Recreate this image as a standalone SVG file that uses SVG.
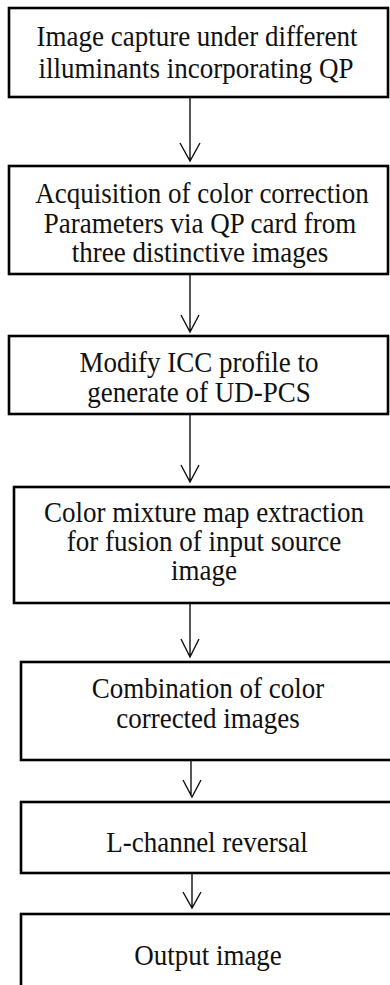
<svg xmlns="http://www.w3.org/2000/svg" width="390" height="985" viewBox="0 0 390 985">
<style>
.box{fill:#fff;stroke:#000;stroke-width:2.6}
.t{font-family:"Liberation Serif","Times New Roman",serif;font-size:27px;fill:#111;text-anchor:middle}
.c{stroke:#111;stroke-width:1.4;fill:none}
</style>
<rect width="390" height="985" fill="#fff"/>
<g id="n1"><rect class="box" x="9" y="8" width="379" height="89"/>
<text class="t" transform="translate(197,46) scale(1,1.08)">Image capture under different</text>
<text class="t" transform="translate(196,78) scale(1,1.08)">illuminants incorporating QP</text></g>
<g id="n2"><rect class="box" x="9" y="166" width="379" height="108"/>
<text class="t" transform="translate(202,203) scale(1,1.08)">Acquisition of color correction</text>
<text class="t" transform="translate(200,233) scale(1,1.08)">Parameters via QP card from</text>
<text class="t" transform="translate(200,262) scale(1,1.08)">three distinctive images</text></g>
<g id="n3"><rect class="box" x="9" y="336" width="379" height="78"/>
<text class="t" transform="translate(199,372) scale(1,1.08)">Modify ICC profile to</text>
<text class="t" transform="translate(199,402) scale(1,1.08)">generate of UD-PCS</text></g>
<g id="n4"><rect class="box" x="14" y="487" width="380" height="116"/>
<text class="t" transform="translate(204,522) scale(1,1.08)">Color mixture map extraction</text>
<text class="t" transform="translate(204,551) scale(1,1.08)">for fusion of input source</text>
<text class="t" transform="translate(204,580) scale(1,1.08)">image</text></g>
<g id="n5"><rect class="box" x="21" y="662" width="373" height="98"/>
<text class="t" transform="translate(208,698) scale(1,1.08)">Combination of color</text>
<text class="t" transform="translate(208,728) scale(1,1.08)">corrected images</text></g>
<g id="n6"><rect class="box" x="21" y="802" width="373" height="71"/>
<text class="t" transform="translate(207,852) scale(1,1.08)">L-channel reversal</text></g>
<g id="n7"><rect class="box" x="21" y="914" width="373" height="80"/>
<text class="t" transform="translate(208,965) scale(1,1.08)">Output image</text></g>
<g id="connectors">
<path class="c" d="M190 97V161M180 143L190 161L200 143"/>
<path class="c" d="M190 274V332M181 315L190 332L199 315"/>
<path class="c" d="M190 414V482M181 465L190 482L199 465"/>
<path class="c" d="M190 603V657M181 639L190 657L199 639"/>
<path class="c" d="M191 760V796M183 780L192 797L201 780"/>
<path class="c" d="M192 873V908M183 892L192 908L201 892"/>
</g>
</svg>
